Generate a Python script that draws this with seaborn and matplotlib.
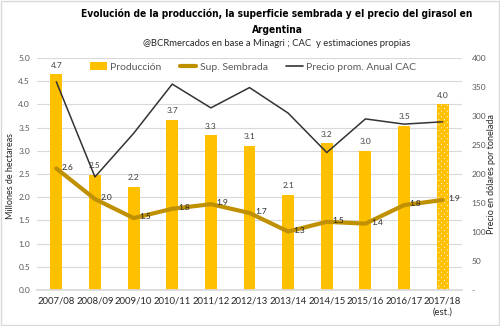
import matplotlib
matplotlib.use("Agg")
import matplotlib.pyplot as plt
import seaborn as sns
import pandas as pd
import numpy as np
from matplotlib.patches import Patch, Rectangle
from matplotlib.lines import Line2D
from matplotlib.ticker import FuncFormatter

campanas = ["2007/08", "2008/09", "2009/10", "2010/11", "2011/12", "2012/13",
            "2013/14", "2014/15", "2015/16", "2016/17", "2017/18\n(est.)"]
produccion = [4.65, 2.48, 2.23, 3.67, 3.33, 3.11, 2.05, 3.16, 3.00, 3.54, 4.00]
sup_sembrada = [2.62, 1.96, 1.55, 1.75, 1.85, 1.66, 1.26, 1.47, 1.43, 1.83, 1.94]
precio = [359, 195, 270, 355, 314, 349, 305, 237, 295, 286, 290]
prod_labels = ["4.7", "2.5", "2.2", "3.7", "3.3", "3.1", "2.1", "3.2", "3.0", "3.5", "4.0"]
sup_labels = ["2.6", "2.0", "1.5", "1.8", "1.9", "1.7", "1.3", "1.5", "1.4", "1.8", "1.9"]

df = pd.DataFrame({"campana": campanas, "produccion": produccion,
                   "sup": sup_sembrada, "precio": precio,
                   "idx": np.arange(len(campanas))})

sns.set_theme(style="white")
plt.rcParams["font.family"] = ["Lato", "DejaVu Sans"]
plt.rcParams["hatch.linewidth"] = 2.0

BAR = "#FFC000"
SUP = "#BF9000"
PRICE = "#333333"
TXT = "#595959"

fig = plt.figure(figsize=(5.0, 3.26), dpi=100)
ax = fig.add_axes([37/500, 1-290/326, 425/500, 232/326])

colors = [BAR] * (len(campanas) - 1) + ["white"]
sns.barplot(data=df, x="campana", y="produccion", ax=ax, width=0.31,
            palette=colors, hue="campana", legend=False, saturation=1,
            edgecolor="none", zorder=2)
last = ax.patches[-1]
last.set_hatch("xxxxxx")
last.set_edgecolor(BAR)
last.set_linewidth(0)

sns.lineplot(data=df, x="idx", y="sup", ax=ax, color=SUP, linewidth=3, zorder=3)

ax.set_ylim(0, 5)
ax.set_xlim(-0.5, 10.5)
ax.set_yticks(np.arange(0, 5.01, 0.5))
ax.yaxis.set_major_formatter(FuncFormatter(lambda v, p: f"{v:.1f}"))
ax.grid(axis="y", color="#D9D9D9", linewidth=0.8, zorder=0)
ax.set_axisbelow(True)
for s in ax.spines.values():
    s.set_visible(False)
ax.spines["bottom"].set_visible(True)
ax.spines["bottom"].set_color("#D9D9D9")
ax.tick_params(axis="y", labelsize=6, colors=TXT, length=0, pad=5)
ax.tick_params(axis="x", labelsize=6.8, colors="#262626", length=0, pad=5)
ax.set_xlabel("")
ax.set_ylabel("")

for i, (v, lab) in enumerate(zip(produccion, prod_labels)):
    ax.annotate(lab, (i, v), xytext=(0, 4), textcoords="offset points",
                ha="center", va="bottom", fontsize=6, color="#404040", zorder=5)
for i, (v, lab) in enumerate(zip(sup_sembrada, sup_labels)):
    ax.annotate(lab, (i, v), xytext=(4, 1), textcoords="offset points",
                ha="left", va="center", fontsize=6, color="#262626", zorder=5)

ax2 = ax.twinx()
sns.lineplot(data=df, x="idx", y="precio", ax=ax2, color=PRICE, linewidth=1.1, zorder=4)
ax2.set_ylim(0, 400)
ax2.set_xlim(-0.5, 10.5)
ax2.set_yticks(np.arange(0, 401, 50))
ax2.yaxis.set_major_formatter(FuncFormatter(lambda v, p: "-" if v == 0 else f"{int(v)}"))
ax2.tick_params(axis="y", labelsize=6, colors=TXT, length=0, pad=7)
ax2.set_ylabel("")
ax2.grid(False)
for s in ax2.spines.values():
    s.set_visible(False)

fig.text(11/500, 1-176/326, "Millones de hectareas", rotation=90, ha="center",
         va="center", fontsize=6.5, color="#262626")
fig.text(491/500, 1-174/326, "Precio en dólares por tonelada", rotation=90, ha="center",
         va="center", fontsize=6.5, color="#262626")

t1 = fig.text(277/500, 1-14/326, "Evolución de la producción, la superficie sembrada y el precio del girasol en",
              ha="center", va="center", fontsize=10, fontweight="bold",
              family=["DejaVu Sans"], fontstretch="condensed", color="#000000")
t2 = fig.text(277/500, 1-30/326, "Argentina", ha="center", va="center", fontsize=10,
              fontweight="bold", family=["DejaVu Sans"], fontstretch="condensed", color="#000000")
fig.text(277/500, 1-44/326, "@BCRmercados en base a Minagri ; CAC  y estimaciones propias",
         ha="center", va="center", fontsize=6.8, color="#262626")

# fit title width to the reference (about 389 px)
r = fig.canvas.get_renderer()
w = t1.get_window_extent(r).width
scale = 389.0 / w
fs = 10 * scale
t1.set_fontsize(fs)
t2.set_fontsize(fs)

handles = [Patch(facecolor=BAR, edgecolor="none"),
           Line2D([0], [0], color=SUP, linewidth=3),
           Line2D([0], [0], color=PRICE, linewidth=1.2)]
leg = fig.legend(handles, ["Producción", "Sup. Sembrada", "Precio prom. Anual CAC"],
                 loc="center", bbox_to_anchor=(253/500, 1-67/326), ncol=3, frameon=False,
                 fontsize=7.5, handlelength=1.6, handletextpad=0.3, columnspacing=1.8,
                 labelcolor=TXT)

fig.patches.append(Rectangle((0.002, 0.003), 0.996, 0.994, transform=fig.transFigure,
                             fill=False, edgecolor="#D9D9D9", linewidth=1))

fig.savefig("out.png", dpi=100)
